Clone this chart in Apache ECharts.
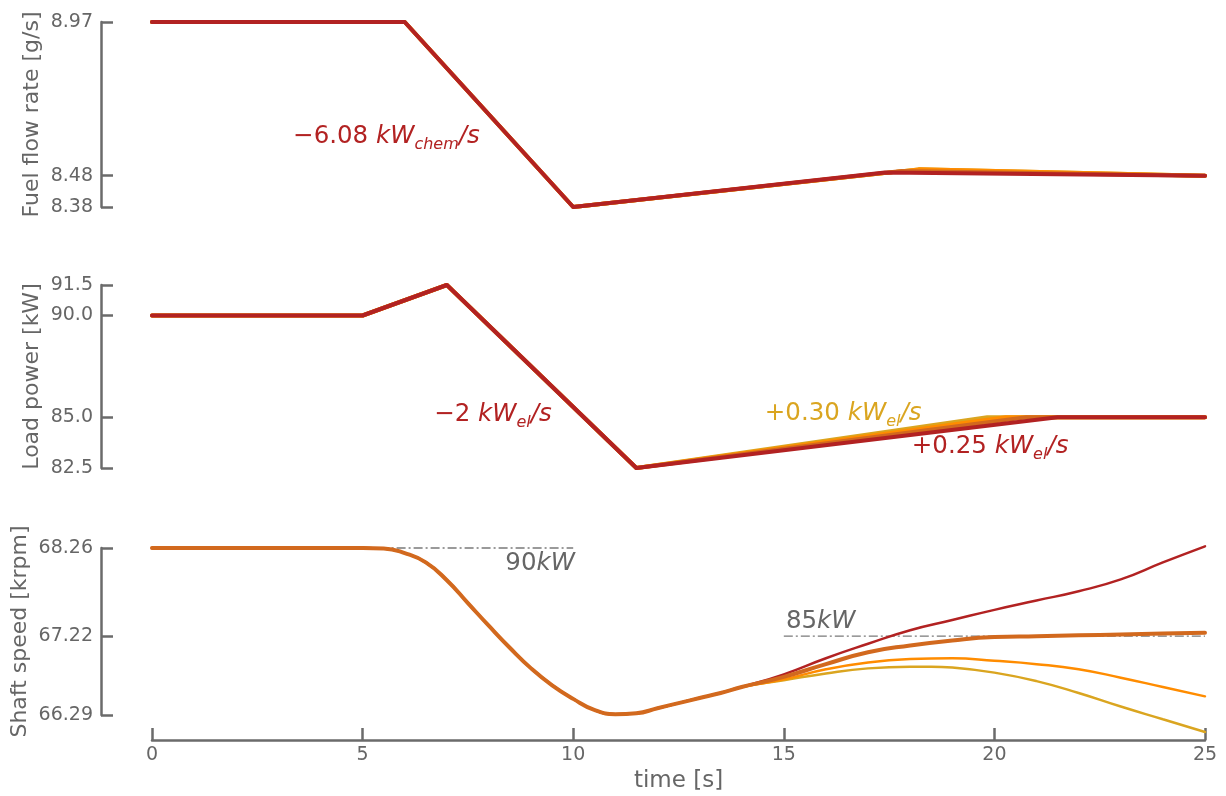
<!DOCTYPE html>
<html>
<head>
<meta charset="utf-8">
<script src="https://cdn.jsdelivr.net/npm/echarts@6/dist/echarts.min.js"></script>
<style>
  html, body { margin: 0; padding: 0; background: #ffffff; }
  #chart { width: 1226px; height: 796px; }
</style>
</head>
<body>
<div id="chart"></div>
<script>
// ---- tick labels ----
const timeTicks = [0, 5, 10, 15, 20, 25];
const fuelTicks = [8.38, 8.48, 8.97];
const loadTicks = [82.5, 85.0, 90.0, 91.5];
const speedTicks = [66.29, 67.22, 68.26];

// ---- fuel flow rate [g/s] ----
const fuelGold   = [[0, 8.97], [6, 8.97], [10, 8.38], [18.2, 8.50], [25, 8.48]];
const fuelOrange = [[0, 8.97], [6, 8.97], [10, 8.38], [18.2, 8.50], [25, 8.48]];
const fuelChoc   = [[0, 8.97], [6, 8.97], [10, 8.38], [17.8, 8.495], [25, 8.48]];
const fuelRed    = [[0, 8.97], [6, 8.97], [10, 8.38], [17.4, 8.49], [25, 8.48]];

// ---- load power [kW] ----
const loadGold   = [[0, 90], [5, 90], [7, 91.5], [11.5, 82.5], [19.83, 85], [25, 85]];
const loadOrange = [[0, 90], [5, 90], [7, 91.5], [11.5, 82.5], [20.27, 85], [25, 85]];
const loadChoc   = [[0, 90], [5, 90], [7, 91.5], [11.5, 82.5], [20.76, 85], [25, 85]];
const loadRed    = [[0, 90], [5, 90], [7, 91.5], [11.5, 82.5], [21.5, 85], [25, 85]];

// ---- shaft speed [krpm]: common dip, then one tail per ramp rate ----
const speedDrop = [
  [0, 68.26], [2.5, 68.26], [4.5, 68.26], [5.0, 68.26], [5.5, 68.255], [6.0, 68.20], [6.5, 68.09],
  [7.0, 67.88], [7.5, 67.61], [8.0, 67.34], [8.5, 67.08], [9.0, 66.84], [9.5, 66.64],
  [10.0, 66.48], [10.5, 66.35], [11.0, 66.30], [11.5, 66.31], [12.0, 66.37], [12.5, 66.43],
  [13.0, 66.49], [13.5, 66.55]
];
const speedGoldTail   = [[14, 66.62], [15, 66.70], [16, 66.78], [17, 66.84], [18, 66.86], [18.5, 66.86], [19, 66.85], [20, 66.79], [21, 66.69], [22, 66.55], [23, 66.39], [24, 66.24], [25, 66.09]];
const speedOrangeTail = [[14, 66.62], [15, 66.71], [16, 66.83], [17, 66.91], [18, 66.95], [19, 66.96], [20, 66.93], [21, 66.89], [22, 66.83], [23, 66.73], [24, 66.62], [25, 66.51]];
const speedChocTail   = [[14, 66.62], [15, 66.74], [16, 66.89], [17, 67.03], [18, 67.11], [19, 67.17], [20, 67.21], [21, 67.22], [22, 67.23], [23, 67.24], [24, 67.25], [25, 67.26]];
const speedRedTail    = [[14, 66.62], [15, 66.77], [16, 66.96], [17, 67.13], [18, 67.29], [19, 67.41], [20, 67.53], [21, 67.64], [22, 67.75], [23, 67.89], [24, 68.09], [25, 68.28]];

// reference speeds at constant load
const ref90 = [[5, 68.26], [10, 68.26]];
const ref85 = [[15, 67.22], [25, 67.22]];

const C = {
  red: '#b22222', choc: '#d2691e', orange: '#ff8c00', gold: '#daa520',
  axis: '#6b6b6b', text: '#666666', ref: '#7a7a7a'
};
const FONT = '"DejaVu Sans", sans-serif';

const chart = echarts.init(document.getElementById('chart'), null, { renderer: 'canvas' });

function yAxis(gridIndex, name, min, max, ticks, digits, gap) {
  return {
    type: 'value', gridIndex, min, max, offset: 51,
    name, nameLocation: 'middle', nameGap: gap, nameMoveOverlap: false,
    nameTextStyle: { fontFamily: FONT, fontSize: 22, color: C.text },
    axisLine: { show: true, onZero: false, lineStyle: { color: C.axis, width: 2.5 } },
    axisTick: { show: true, inside: true, length: 12, customValues: ticks, lineStyle: { color: C.axis, width: 2.5 } },
    axisLabel: { customValues: ticks, margin: 8, fontFamily: FONT, fontSize: 19, color: C.text,
      formatter: v => v.toFixed(digits) },
    splitLine: { show: false }
  };
}

function xAxis(gridIndex, visible) {
  return {
    type: 'value', gridIndex, min: 0, max: 25, interval: 5, show: visible, offset: 25,
    name: visible ? 'time [s]' : '', nameLocation: 'middle', nameGap: 30, nameMoveOverlap: false,
    nameTextStyle: { fontFamily: FONT, fontSize: 23, color: C.text },
    axisLine: { show: true, onZero: false, lineStyle: { color: C.axis, width: 2.5 } },
    axisTick: { show: true, inside: true, length: 12, lineStyle: { color: C.axis, width: 2.5 } },
    axisLabel: { customValues: timeTicks, margin: 6, fontFamily: FONT, fontSize: 19, color: C.text },
    splitLine: { show: false }
  };
}

function line(gridIndex, data, color, width, smooth) {
  return {
    type: 'line', xAxisIndex: gridIndex, yAxisIndex: gridIndex, data, symbol: 'none',
    smooth: smooth ? 0.5 : false, clip: false,
    lineStyle: { color, width, cap: 'round', join: 'round' }, z: 2
  };
}

function refLine(data) {
  return {
    type: 'line', xAxisIndex: 2, yAxisIndex: 2, data, symbol: 'none', clip: false,
    lineStyle: { color: C.ref, width: 1.3, type: [9, 3, 2, 3] }, z: 1
  };
}

chart.setOption({
  animation: false,
  backgroundColor: '#ffffff',
  grid: [
    { left: 152, right: 21, top: 22, height: 185 },
    { left: 152, right: 21, top: 285, height: 183 },
    { left: 152, right: 21, top: 548, height: 167 }
  ],
  xAxis: [xAxis(0, false), xAxis(1, false), xAxis(2, true)],
  yAxis: [
    yAxis(0, 'Fuel flow rate [g/s]', 8.38, 8.97, fuelTicks, 2, 58),
    yAxis(1, 'Load power [kW]', 82.5, 91.5, loadTicks, 1, 58),
    yAxis(2, 'Shaft speed [krpm]', 66.29, 68.26, speedTicks, 2, 70)
  ],
  series: [
    line(0, fuelGold, C.gold, 4), line(0, fuelOrange, C.orange, 4),
    line(0, fuelChoc, C.choc, 4), line(0, fuelRed, C.red, 4),
    line(1, loadGold, C.gold, 4), line(1, loadOrange, C.orange, 4),
    line(1, loadChoc, C.choc, 4), line(1, loadRed, C.red, 4),
    refLine(ref90), refLine(ref85),
    line(2, speedDrop.concat(speedGoldTail), C.gold, 2.5, true),
    line(2, speedDrop.concat(speedOrangeTail), C.orange, 2.5, true),
    line(2, speedDrop.concat(speedRedTail), C.red, 2.5, true),
    line(2, speedDrop.concat(speedChocTail), C.choc, 4, true)
  ]
});

// ---- rate and reference annotations ----
function rich(color) {
  return {
    n: { fontFamily: FONT, fontSize: 24.5, fill: color, lineHeight: 32 },
    i: { fontFamily: FONT, fontSize: 24.5, fontStyle: 'italic', fill: color, lineHeight: 32 },
    s: { fontFamily: FONT, fontSize: 16, fontStyle: 'italic', fill: color, lineHeight: 21, verticalAlign: 'bottom' }
  };
}
const notes = [
  { grid: 0, at: [3.35, 8.605], text: '{n|−6.08 }{i|kW}{s|chem}{i|/s}', color: C.red, align: 'left' },
  { grid: 1, at: [6.70, 85.1], text: '{n|−2 }{i|kW}{s|el}{i|/s}', color: C.red, align: 'left' },
  { grid: 1, at: [14.55, 85.15], text: '{n|+0.30 }{i|kW}{s|el}{i|/s}', color: C.gold, align: 'left' },
  { grid: 1, at: [18.04, 83.53], text: '{n|+0.25 }{i|kW}{s|el}{i|/s}', color: C.red, align: 'left' },
  { grid: 2, at: [10.04, 68.08], text: '{n|90}{i|kW}', color: C.text, align: 'right' },
  { grid: 2, at: [15.05, 67.39], text: '{n|85}{i|kW}', color: C.text, align: 'left' }
];
chart.setOption({
  graphic: notes.map(a => {
    const p = chart.convertToPixel({ gridIndex: a.grid }, a.at);
    return {
      type: 'text', x: p[0], y: p[1], z: 10,
      style: { text: a.text, rich: rich(a.color), fill: a.color, align: a.align, verticalAlign: 'middle' }
    };
  })
});
</script>
</body>
</html>
